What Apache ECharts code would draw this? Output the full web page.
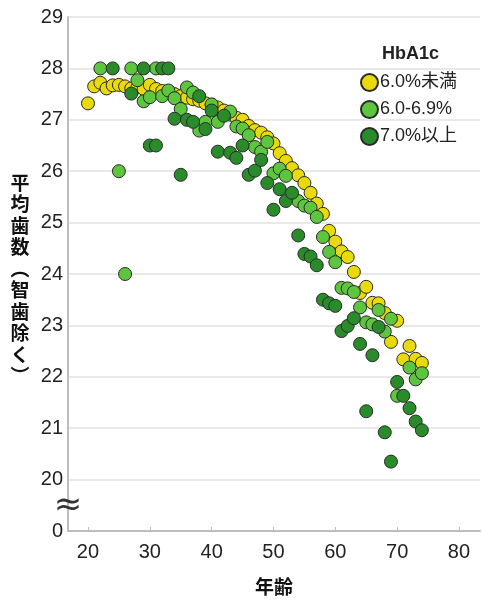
<!DOCTYPE html>
<html><head><meta charset="utf-8">
<script src="https://cdn.jsdelivr.net/npm/echarts@6/dist/echarts.min.js"></script>
<style>html,body{margin:0;padding:0;background:#fff}#c{width:482px;height:601px}</style>
</head><body><div id="c"></div>
<script>
const seriesNames = ['6.0%未満', '6.0-6.9%', '7.0%以上'];
const yAxisTitle = '平均歯数︵智歯除く︶';
const xTicks = [20, 30, 40, 50, 60, 70, 80];
const yTicks = [19, 20, 21, 22, 23, 24, 25, 26, 27, 28, 29];

const agesLow = [20,21,22,23,24,25,26,27,28,29,30,31,32,33,34,35,36,37,38,39,40,41,42,43,44,45,46,47,48,49,50,51,52,53,54,55,56,57,58,59,60,61,62,63,64,65,66,67,68,69,70,71,72,73,74];
const valsLow = [27.32,27.65,27.72,27.61,27.67,27.68,27.65,27.61,27.63,27.6,27.68,27.6,27.56,27.53,27.5,27.46,27.43,27.4,27.37,27.32,27.29,27.24,27.18,27.1,27.04,27.0,26.88,26.8,26.75,26.66,26.54,26.35,26.2,26.06,25.92,25.77,25.58,25.37,25.17,24.84,24.63,24.44,24.33,24.04,23.63,23.75,23.44,23.43,23.24,22.68,23.09,22.34,22.6,22.35,22.27];

const agesMid = [22,25,26,27,28,29,30,31,32,33,34,35,36,37,38,39,40,41,43,44,45,46,47,48,49,50,51,52,54,55,56,57,58,59,60,61,62,63,64,65,66,67,68,69,70,72,73,74];
const valsMid = [28.0,26.0,24.0,28.0,27.77,27.36,27.44,28.0,27.46,27.57,27.42,27.21,27.63,27.53,26.79,26.96,27.3,26.96,27.16,26.87,26.83,26.7,26.47,26.38,26.57,25.96,26.05,25.91,25.42,25.33,25.29,25.11,24.72,24.43,24.23,23.73,23.72,23.65,23.35,23.06,23.02,23.3,22.88,23.13,21.63,22.18,21.95,22.07];

const agesHigh = [24,27,29,30,31,32,33,34,35,36,37,38,39,40,41,42,43,44,45,46,47,48,49,50,51,52,53,54,55,56,57,58,59,60,61,62,63,64,65,66,67,68,69,70,71,72,73,74];
const valsHigh = [28.0,27.51,28.0,26.5,26.5,28.0,28.0,27.02,25.93,27.0,26.96,27.46,26.82,27.18,26.38,27.08,26.36,26.26,26.5,25.93,26.01,26.22,25.77,25.25,25.65,25.42,25.58,24.75,24.39,24.34,24.17,23.5,23.43,23.38,22.89,22.99,23.14,22.64,21.33,22.42,22.97,20.92,20.35,21.9,21.63,21.39,21.13,20.96];

const colors = ['#e8da0c', '#5dc53e', '#2a8b2a'];
const FONT = "'Liberation Sans', 'Noto Sans CJK JP', sans-serif";
const CJK = "'Noto Sans CJK JP', 'Liberation Sans', sans-serif";

const chart = echarts.init(document.getElementById('c'));
function mk(name, ages, vals, color) {
  return {
    name: name, type: 'scatter', symbol: 'circle', symbolSize: 13,
    itemStyle: { color: color, borderColor: '#2a2a2a', borderWidth: 1, opacity: 1 },
    emphasis: { disabled: true },
    data: ages.map((a, i) => [a, vals[i]])
  };
}
chart.setOption({
  animation: false,
  title: {
    text: 'HbA1c', left: 377, top: 40,
    textStyle: { fontFamily: FONT, fontWeight: 'bold', fontSize: 18, color: '#222' }
  },
  legend: {
    orient: 'vertical', left: 355, top: 68, itemWidth: 17, itemHeight: 17, itemGap: 8,
    icon: 'circle',
    textStyle: { fontFamily: FONT, fontSize: 18, color: '#222', padding: [0, 0, 0, -3] },
    data: seriesNames
  },
  grid: { left: 68, right: 2, top: 17, bottom: 64, containLabel: false },
  xAxis: {
    type: 'value', min: 16.77, max: 83.4,
    name: '年齢', nameLocation: 'middle', nameGap: 46,
    nameTextStyle: { fontFamily: CJK, fontWeight: 'bold', fontSize: 19, color: '#111' },
    axisLine: { show: true, lineStyle: { color: '#bdbdbd', width: 2 } },
    axisTick: { show: true, inside: true, length: 4, customValues: xTicks, lineStyle: { color: '#bdbdbd' } },
    axisLabel: { customValues: xTicks, fontFamily: FONT, fontSize: 20, color: '#222', margin: 11 },
    splitLine: { show: false }
  },
  yAxis: {
    type: 'value', min: 19, max: 29, interval: 1,
    axisLine: { show: true, lineStyle: { color: '#bdbdbd', width: 2 } },
    axisTick: { show: false },
    axisLabel: { fontFamily: FONT, fontSize: 20, color: '#222', margin: 5,
      formatter: v => (v === 19 ? '0' : String(v)) },
    splitLine: { show: true, lineStyle: { color: '#e2e2e2', width: 1.5 } }
  },
  series: [
    mk(seriesNames[0], agesLow, valsLow, colors[0]),
    mk(seriesNames[1], agesMid, valsMid, colors[1]),
    mk(seriesNames[2], agesHigh, valsHigh, colors[2])
  ]
});
const bp = chart.convertToPixel({ gridIndex: 0 }, [16.77, 19.48]);
const np = chart.convertToPixel({ gridIndex: 0 }, [16.77, 23.9]);
chart.setOption({
  graphic: [{
    type: 'text', x: bp[0], y: bp[1],
    style: { text: '≈', fontFamily: "'DejaVu Sans', sans-serif", fontSize: 34, fill: '#333', align: 'center', verticalAlign: 'middle' },
    z: 100
  }, {
    type: 'text', x: np[0] - 48, y: np[1],
    style: { text: yAxisTitle.split('').join('\n'), fontFamily: CJK, fontWeight: 'bold', fontSize: 19, lineHeight: 21.5, fill: '#111', align: 'center', verticalAlign: 'middle' },
    z: 100
  }]
});
</script></body></html>
